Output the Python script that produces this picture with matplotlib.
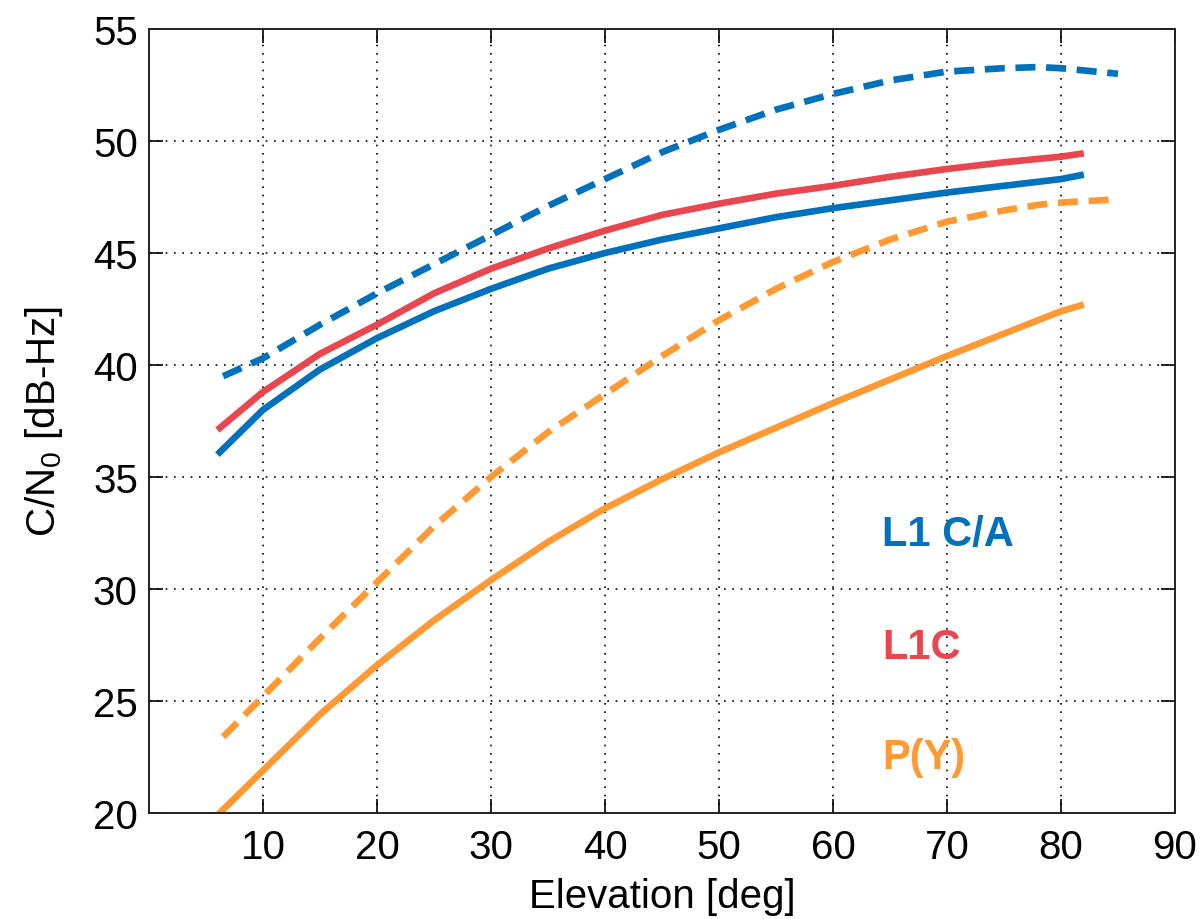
import matplotlib
matplotlib.use("Agg")
import matplotlib.pyplot as plt
import numpy as np

plt.rcParams['font.family'] = ['Liberation Sans', 'DejaVu Sans']
plt.rcParams['mathtext.fontset'] = 'custom'
plt.rcParams['mathtext.rm'] = 'Liberation Sans'
plt.rcParams['mathtext.it'] = 'Liberation Sans'

# Elevation [deg]
elev_solid = [6, 10, 15, 20, 25, 30, 35, 40, 45, 50, 55, 60, 65, 70, 75, 80, 82]
elev_dash = [6.5, 10, 15, 20, 25, 30, 35, 40, 45, 50, 55, 60, 65, 70, 75, 78, 80, 85]

# C/N0 [dB-Hz]
l1ca_solid = [36.0, 38.0, 39.8, 41.2, 42.4, 43.4, 44.3, 45.0, 45.6, 46.1, 46.6, 47.0, 47.35, 47.7, 48.0, 48.3, 48.5]
l1c_solid = [37.1, 38.8, 40.5, 41.8, 43.2, 44.3, 45.2, 46.0, 46.7, 47.2, 47.65, 48.0, 48.4, 48.75, 49.05, 49.3, 49.45]
py_solid = [19.9, 21.9, 24.4, 26.6, 28.6, 30.4, 32.1, 33.6, 34.9, 36.1, 37.2, 38.3, 39.35, 40.4, 41.4, 42.4, 42.7]

l1ca_dash = [39.5, 40.3, 41.8, 43.2, 44.5, 45.8, 47.1, 48.3, 49.5, 50.5, 51.4, 52.1, 52.7, 53.1, 53.25, 53.3, 53.25, 53.0]
py_dash = [23.4, 25.2, 27.8, 30.3, 32.8, 35.0, 37.0, 38.7, 40.4, 42.0, 43.4, 44.6, 45.6, 46.4, 46.9, 47.15, 47.25, 47.4]

labels = ['L1 C/A', 'L1C', 'P(Y)']
label_y = [32.45, 27.4, 22.5]

blue = '#0072BD'
red = '#E8474F'
orange = '#FF9933'

fig = plt.figure(figsize=(12.02, 9.2), dpi=100)
ax = fig.add_axes([149/1202, 1 - 814/920, (1175-149)/1202, (814-30)/920])

lw = 4.8
dash = (3.0, 1.6)
ax.plot(elev_dash, l1ca_dash, color=blue, lw=lw, ls=(0, dash), dash_capstyle='butt')
ax.plot(elev_dash, py_dash, color=orange, lw=lw, ls=(0, dash), dash_capstyle='butt')
ax.plot(elev_solid, l1ca_solid, color=blue, lw=lw, solid_capstyle='butt')
ax.plot(elev_solid, l1c_solid, color=red, lw=lw, solid_capstyle='butt')
ax.plot(elev_solid, py_solid, color=orange, lw=lw, solid_capstyle='butt')

for lab, yv, c in zip(labels, label_y, [blue, red, orange]):
    ax.text(64.3, yv, lab, color=c, fontsize=30, fontweight='bold', va='center', ha='left')

ax.set_xlim(0, 90)
ax.set_ylim(20, 55)
ax.set_xticks(np.arange(10, 91, 10))
ax.set_yticks(np.arange(20, 56, 5))
ax.grid(True, color='black', ls=(0, (1, 4)), lw=1.2)
ax.tick_params(direction='in', length=10, width=1.2, top=True, right=True, labelsize=29)
ax.tick_params(axis='y', pad=8)
ax.tick_params(axis='x', pad=11)
for s in ax.spines.values():
    s.set_linewidth(1.4)
    s.set_color('#222222')

ax.set_xlabel('Elevation [deg]', fontsize=29, labelpad=8)
ax.set_ylabel('C/N$_0$ [dB-Hz]', fontsize=29, labelpad=20)

fig.savefig('out.png', dpi=100)
